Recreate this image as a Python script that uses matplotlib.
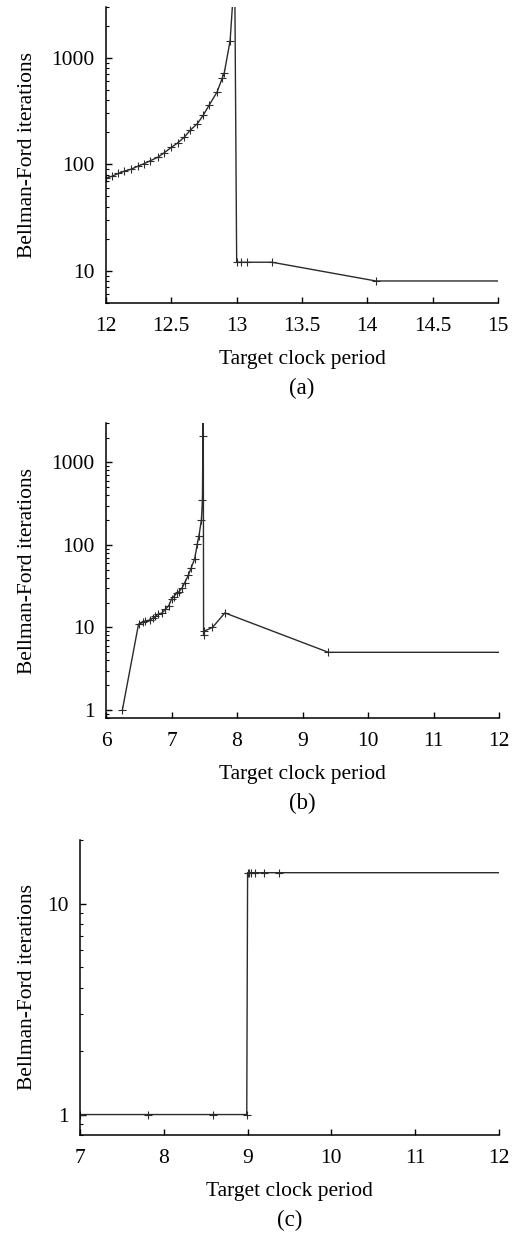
import matplotlib
matplotlib.use("Agg")
import matplotlib.pyplot as plt
from matplotlib.ticker import NullFormatter, LogLocator

plt.rcParams['font.family'] = ['Liberation Serif', 'DejaVu Serif']

# (a)
xa = [12.0, 12.045, 12.095, 12.14, 12.195, 12.245, 12.29, 12.34, 12.395, 12.445,
      12.5, 12.55, 12.6, 12.645, 12.7, 12.745, 12.79, 12.85, 12.89, 12.905,
      12.95, 12.985, 13.0, 13.035, 13.08, 13.27, 14.065, 15.0]
ya = [74, 77, 82, 86, 90, 96, 101, 108, 116, 128,
      144, 159, 180, 209, 241, 290, 360, 477, 645, 720,
      1450, 6500, 12, 12, 12, 12, 8, 8]

# (b)
xb = [6.25, 6.497, 6.564, 6.6, 6.667, 6.718, 6.754, 6.79, 6.857, 6.908,
      6.959, 7.0, 7.036, 7.077, 7.113, 7.164, 7.2, 7.256, 7.3, 7.354,
      7.395, 7.42, 7.457, 7.472, 7.48, 7.485, 7.49, 7.495, 7.625, 7.815,
      9.395, 12.0]
yb = [1, 11, 11.5, 12, 12.3, 13, 13.6, 14.4, 15, 16.7,
      18.4, 22, 23.7, 26, 27, 30.4, 34.6, 42.8, 52.6, 68,
      104, 130, 203, 350, 2100, 6000, 8, 9, 10, 15,
      5, 5]

# (c)
xc = [7.0, 7.81, 8.59, 8.99, 9.0, 9.015, 9.036, 9.087, 9.19, 9.38, 12.0]
yc = [1, 1, 1, 1, 14, 14, 14, 14, 14, 14, 14]

panels = [
    (xa, ya, (12, 15), [12, 12.5, 13, 13.5, 14, 14.5, 15], ["12", "12.5", "13", "13.5", "14", "14.5", "15"],
     (5, 3000), [10, 100, 1000], "(a)", [106/519, 1 - 302.7/1243, 392/519, 295.7/1243]),
    (xb, yb, (6, 12), list(range(6, 13)), [str(v) for v in range(6, 13)],
     (0.8, 3000), [1, 10, 100, 1000], "(b)", [106/519, 1 - 718/1243, 393/519, 295/1243]),
    (xc, yc, (7, 12), list(range(7, 13)), [str(v) for v in range(7, 13)],
     (0.8, 20), [1, 10], "(c)", [80/519, 1 - 1135/1243, 419/519, 295/1243]),
]

fs = 15.5

fig = plt.figure(figsize=(5.19, 12.43), dpi=100)

for x, y, xlim, xt, xtl, ylim, yt, tag, rect in panels:
    ax = fig.add_axes(rect)
    ax.plot(x, y, color="#2b2b2b", lw=1.0, marker="+", ms=6, mew=0.8,
            markevery=slice(0, len(x) - 1))
    ax.set_yscale("log")
    ax.set_xlim(*xlim)
    ax.set_ylim(*ylim)
    ax.set_xticks(xt, labels=xtl)
    ax.set_yticks(yt, labels=[str(v) for v in yt])
    ax.yaxis.set_minor_locator(LogLocator(subs=range(2, 10)))
    ax.yaxis.set_minor_formatter(NullFormatter())
    for s in ["top", "right"]:
        ax.spines[s].set_visible(False)
    for s in ["left", "bottom"]:
        ax.spines[s].set_linewidth(1.1)
    ax.tick_params(which="major", direction="in", length=4, width=1, labelsize=fs, pad=8)
    ax.tick_params(axis="x", which="major", pad=10)
    ax.tick_params(which="minor", direction="in", length=2.5, width=0.8)
    ax.set_xlabel("Target clock period", fontsize=fs)
    ax.xaxis.set_label_coords(0.5, -0.16)
    ax.set_ylabel("Bellman-Ford iterations", fontsize=fs)
    w = rect[2] * 519
    ax.yaxis.set_label_coords(-(rect[0] * 519 - 37) / w, 0.5)
    ax.text(0.5, -0.29, tag, transform=ax.transAxes, ha="center", va="center", fontsize=fs + 1)

fig.savefig("out.png", dpi=100)
